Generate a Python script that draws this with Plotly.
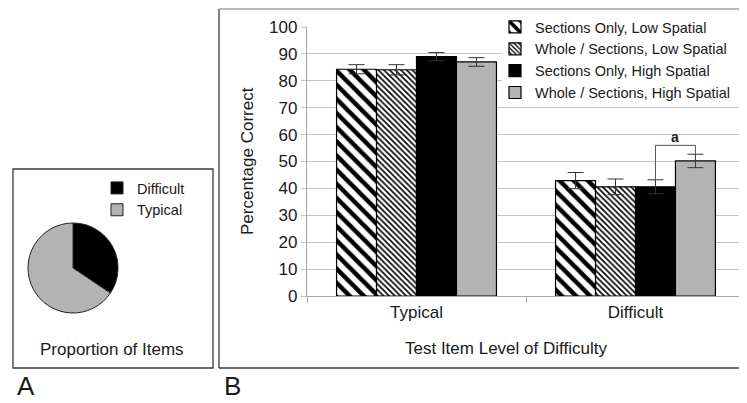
import plotly.graph_objects as go

# ---------------- data ----------------
categories = ["Typical", "Difficult"]
series_names = [
    "Sections Only, Low Spatial",
    "Whole / Sections, Low Spatial",
    "Sections Only, High Spatial",
    "Whole / Sections, High Spatial",
]
sec_low = [84.3, 42.9]
whole_low = [84.1, 40.6]
sec_high = [89.0, 40.6]
whole_high = [87.0, 50.2]
err_sec_low = [1.7, 3.0]
err_whole_low = [1.9, 2.9]
err_sec_high = [1.5, 2.6]
err_whole_high = [1.6, 2.5]
y_ticks = [0, 10, 20, 30, 40, 50, 60, 70, 80, 90, 100]

pie_labels = ["Difficult", "Typical"]
pie_values = [34.4, 65.6]

# page has an 8px body margin; the figure is sized to fit the 747x403 window
OX, OY = 8, 8
W, H = 739, 395
def px(x):
    return (x - OX) / W
def py(y):
    return 1 - (y - OY) / H

FONT = "Liberation Sans, Arial, sans-serif"
TXT = "#1a1a1a"
GRID = "#c4c4c4"
BARGAP = 0.27
XL, XR, YT, YB = 307, 745, 27, 296   # plot area in window pixels
YMAX = 100

fig = go.Figure()

styles = [
    dict(color="white", pattern=dict(shape="\\", size=10, solidity=0.45, fgcolor="black", bgcolor="white", fillmode="replace")),
    dict(color="white", pattern=dict(shape="\\", size=4, solidity=0.4, fgcolor="black", bgcolor="white", fillmode="replace")),
    dict(color="black"),
    dict(color="#b3b3b3"),
]
vals = [sec_low, whole_low, sec_high, whole_high]
errs = [err_sec_low, err_whole_low, err_sec_high, err_whole_high]

for name, v, e, st in zip(series_names, vals, errs, styles):
    fig.add_trace(go.Bar(
        name=name, x=categories, y=v,
        marker=dict(line=dict(color="black", width=1.2), **st),
        error_y=dict(type="data", array=e, visible=True, color="#333333", thickness=1, width=8),
        legend="legend",
    ))

fig.add_trace(go.Pie(
    labels=pie_labels, values=pie_values, sort=False, direction="clockwise", rotation=0,
    marker=dict(colors=["black", "#b3b3b3"], line=dict(color="#222222", width=1)),
    textinfo="none", hoverinfo="label+percent",
    domain=dict(x=[px(28), px(118)], y=[py(313), py(223)]),
    legend="legend2",
))

# bracket between Difficult bars 3 and 4
w = (1 - BARGAP) / 4
cat_i = 1
x3 = cat_i + (2 - 1.5) * w
x4 = cat_i + (3 - 1.5) * w
y3 = sec_high[1] + err_sec_high[1]
y4 = whole_high[1] + err_whole_high[1]
ytop = y4 + 3.3
bcol = "#555555"

ncat = len(categories)
def cx(x):   # window pixel -> category-axis coordinate
    return -0.5 + ncat * (x - XL) / (XR - XL)
def cy(y):   # window pixel -> value-axis coordinate
    return YMAX * (YB - y) / (YB - YT)

shapes = [
    # white area behind the legend (covers gridlines, not bars)
    dict(type="rect", xref="x", yref="y", x0=cx(502), x1=cx(747), y0=cy(100), y1=cy(16),
         fillcolor="white", line=dict(width=0), layer="between"),
    dict(type="line", xref="x", yref="y", x0=x3, x1=x3, y0=y3, y1=ytop, line=dict(color=bcol, width=1)),
    dict(type="line", xref="x", yref="y", x0=x3, x1=x4, y0=ytop, y1=ytop, line=dict(color=bcol, width=1)),
    dict(type="line", xref="x", yref="y", x0=x4, x1=x4, y0=ytop, y1=y4, line=dict(color=bcol, width=1)),
    # panel boxes
    dict(type="rect", xref="paper", yref="paper", x0=px(13), x1=px(213), y0=py(368), y1=py(169),
         line=dict(color="#3a3a3a", width=1.3), layer="below"),
    dict(type="line", xref="paper", yref="paper", x0=px(219), x1=px(219), y0=py(368), y1=py(9),
         line=dict(color="#3a3a3a", width=1.3)),
    dict(type="line", xref="paper", yref="paper", x0=px(219), x1=1.02, y0=py(368), y1=py(368),
         line=dict(color="#3a3a3a", width=1.5)),
    dict(type="line", xref="paper", yref="paper", x0=px(219), x1=1.02, y0=py(9), y1=py(9),
         line=dict(color="#a0a0a0", width=1.3)),
]

def ann(text, x, y, size, **kw):
    return dict(text=text, xref="paper", yref="paper", x=px(x), y=py(y), xanchor="center",
                yanchor="middle", showarrow=False, font=dict(family=FONT, size=size, color=TXT), **kw)

annotations = [
    dict(text="a", xref="x", yref="y", x=(x3 + x4) / 2, y=ytop, xanchor="center", yanchor="bottom",
         showarrow=False, font=dict(family=FONT, size=14, color=TXT, weight="bold"), yshift=-2),
    ann("Percentage Correct", 247, 161, 17, textangle=-90),
    ann("Test Item Level of Difficulty", 506, 348, 17),
    ann("Proportion of Items", 112, 349, 17),
    ann("A", 26, 386, 26),
    ann("B", 232, 386, 26),
]

fig.update_layout(
    width=W, height=H,
    margin=dict(l=0, r=0, t=0, b=0, autoexpand=False),
    paper_bgcolor="white", plot_bgcolor="white",
    barmode="group", bargap=BARGAP, bargroupgap=0,
    font=dict(family=FONT, color=TXT),
    xaxis=dict(domain=[px(XL), px(XR)], range=[-0.5, ncat - 0.5], showline=True, linecolor="#a8a8a8",
               linewidth=1.3, ticks="outside", tickson="boundaries", ticklen=6, tickcolor="#a8a8a8",
               tickfont=dict(size=17, color=TXT), showgrid=False, automargin=False),
    yaxis=dict(domain=[py(YB), py(YT)], range=[0, YMAX], tickvals=y_ticks, showline=True,
               linecolor="#a8a8a8", linewidth=1.3, ticks="outside", ticklen=5, tickcolor=GRID,
               gridcolor=GRID, gridwidth=1.3, tickfont=dict(size=17, color=TXT), zeroline=False,
               automargin=False),
    legend=dict(x=px(495), y=py(11), xanchor="left", yanchor="top", bgcolor="rgba(0,0,0,0)",
                font=dict(family=FONT, size=14.5, color=TXT), tracegroupgap=0, itemwidth=30),
    legend2=dict(x=px(97), y=py(172), xanchor="left", yanchor="top", bgcolor="rgba(0,0,0,0)",
                 font=dict(family=FONT, size=14.5, color=TXT), itemwidth=30),
    shapes=shapes, annotations=annotations,
)

fig.write_html("out.html")
